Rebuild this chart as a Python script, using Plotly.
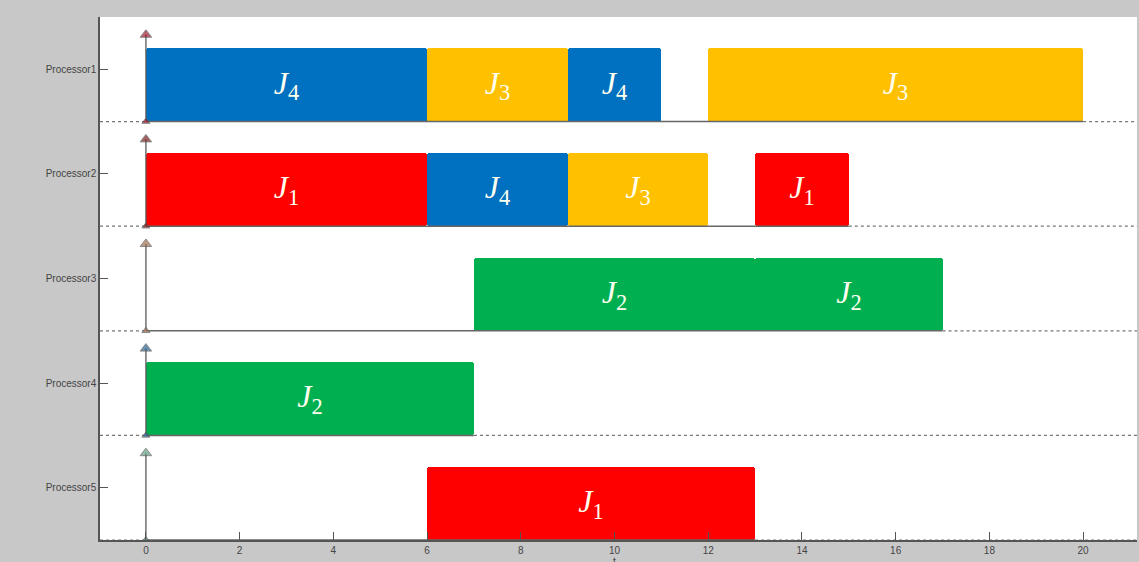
import plotly.graph_objects as go

processors = ["Processor1", "Processor2", "Processor3", "Processor4", "Processor5"]
# tasks: (processor index 1-based, job number, start, end)
task_proc = [1, 1, 1, 1, 2, 2, 2, 2, 3, 3, 4, 5]
task_job = [4, 3, 4, 3, 1, 4, 3, 1, 2, 2, 2, 1]
task_start = [0, 6, 9, 12, 0, 6, 9, 13, 7, 13, 0, 6]
task_end = [6, 9, 11, 20, 6, 9, 12, 15, 13, 17, 7, 13]

job_colors = {1: "#FF0000", 2: "#00B050", 3: "#FFC000", 4: "#0070C0"}
arrow_colors = ["#9B1B30", "#7A1F1F", "#A07050", "#2A5F8F", "#5FA080"]
x_ticks = [0, 2, 4, 6, 8, 10, 12, 14, 16, 18, 20]
x_range = [-0.98, 21.15]
y_range = [5.5, 0.5]
x_title = "t"

fig = go.Figure()

# baselines: dotted outside schedule, solid within
for i, name in enumerate(processors, start=1):
    ends = [e for p, e in zip(task_proc, task_end) if p == i]
    last = max(ends)
    yb = i + 0.5
    fig.add_trace(go.Scatter(x=[x_range[0], 0], y=[yb, yb], mode="lines",
                             line=dict(color="#777777", width=1.2, dash="dot"),
                             showlegend=False, hoverinfo="skip"))
    fig.add_trace(go.Scatter(x=[0, last], y=[yb, yb], mode="lines",
                             line=dict(color="#666666", width=1.5),
                             showlegend=False, hoverinfo="skip"))
    fig.add_trace(go.Scatter(x=[last, x_range[1]], y=[yb, yb], mode="lines",
                             line=dict(color="#777777", width=1.2, dash="dot"),
                             showlegend=False, hoverinfo="skip"))

# bars
for job in sorted(job_colors):
    idx = [k for k, j in enumerate(task_job) if j == job]
    fig.add_trace(go.Bar(
        orientation="h",
        y=[task_proc[k] for k in idx],
        base=[task_start[k] for k in idx],
        x=[task_end[k] - task_start[k] for k in idx],
        width=0.7, offset=-0.2,
        marker=dict(color=job_colors[job], line=dict(width=0), cornerradius=3),
        text=[f"<i>J</i><sub>{job}</sub>" for _ in idx],
        textposition="inside", insidetextanchor="middle",
        constraintext="none",
        textfont=dict(family="Liberation Serif", size=32, color="#FFFFF0"),
        showlegend=False, hoverinfo="skip",
    ))

# arrows at t=0
for i, name in enumerate(processors, start=1):
    c = arrow_colors[i - 1]
    fig.add_trace(go.Scatter(x=[0, 0], y=[i + 0.5, i - 0.33], mode="lines+markers",
                             line=dict(color="#5a5a5a", width=1.3),
                             marker=dict(symbol="triangle-up", size=[7, 10], color=c),
                             showlegend=False, hoverinfo="skip"))

fig.add_annotation(text=x_title, xref="x", yref="paper", x=10, y=-0.026,
                   xanchor="center", yanchor="top", showarrow=False,
                   font=dict(family="Arial", size=10, color="#444444"))

fig.update_layout(
    width=1139, height=562,
    margin=dict(l=100, r=2, t=17, b=22),
    paper_bgcolor="#C8C8C8", plot_bgcolor="#FFFFFF",
    barmode="overlay", bargap=0,
    xaxis=dict(range=x_range, tickvals=x_ticks, ticks="inside", ticklen=8,
               tickcolor="#555555", showgrid=False, zeroline=False,
               showline=True, linecolor="#555555", linewidth=1.5,
               automargin=False,
               tickfont=dict(family="Arial", size=10, color="#444444")),
    yaxis=dict(range=y_range, tickvals=[1, 2, 3, 4, 5], ticktext=processors,
               ticks="inside", ticklen=8, tickcolor="#555555",
               showgrid=False, zeroline=False, automargin=False,
               showline=True, linecolor="#555555", linewidth=1.5,
               tickfont=dict(family="Arial", size=10, color="#444444")),
)

fig.write_html("out.html", config={"displayModeBar": False},
               post_script="document.body.style.margin='0';document.body.style.background='#C8C8C8';")
